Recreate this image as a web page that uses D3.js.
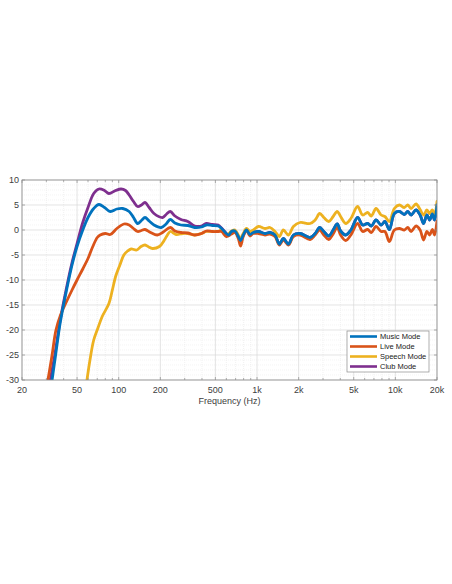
<!DOCTYPE html>
<html><head><meta charset="utf-8">
<script src="https://cdn.jsdelivr.net/npm/d3@7"></script>
<style>
html,body{margin:0;padding:0;background:#fff;}
svg{display:block;font-family:"Liberation Sans",Arial,Helvetica,sans-serif;}
</style></head>
<body>
<svg id="chart" width="452" height="584"></svg>
<script>
// ---- Data ----
const seriesNames = ["Music Mode", "Live Mode", "Speech Mode", "Club Mode"];
const seriesColors = ["#0072BD", "#D95319", "#EDB120", "#7E2F8E"];

const xTickValues = [20, 50, 100, 200, 500, 1000, 2000, 5000, 10000, 20000];
const xTickLabels = ["20", "50", "100", "200", "500", "1k", "2k", "5k", "10k", "20k"];
const yTickValues = [10, 5, 0, -5, -10, -15, -20, -25, -30];

const musicFreq = [33,35,37.8,42,46,50,55,60,66,72,79,87,97,107,119,128,137,146,155,166,180,203,220,236,255,282,316,354,397,430,475,524,554,600,625,654,692,732,760,795,840,888,940,1023,1142,1240,1348,1450,1550,1686,1832,2045,2420,2630,2840,3040,3300,3550,3800,4020,4380,4770,5330,5800,6300,6700,7250,7890,8400,9050,9830,10700,11600,12300,13000,14100,15100,16000,16900,17700,18500,19200,20000];
const musicDb = [-30,-25,-18.5,-12,-7,-3.3,0,2.5,4.3,5.1,4.5,3.7,4.2,4.3,3.7,2.5,1.3,1.9,2.5,1.8,1,0.5,1.2,2.1,1.4,1,0.9,0.5,0.6,1,0.9,0.8,0.3,-0.7,-1,-0.3,-0.2,-1.3,-2.1,-1,0,-0.9,-0.5,-0.3,-0.7,-0.5,-1,-2.8,-1.7,-2.8,-1,-0.7,-1.5,-0.7,0.5,-0.3,-1.2,0,1.2,-0.2,-1,0,2.5,1,1.3,0.8,2,1,1.7,0.1,3.3,3.7,3.1,3.7,3,4,3,1.3,3,2,3.2,2,5];

const liveFreq = [30.8,33,35.2,38,42,46,50,55,60,65,70,73.5,80,87,97,109,119,128,137,146,155,170,190,210,236,255,282,316,354,397,430,475,524,554,600,654,692,732,760,795,840,888,940,1023,1142,1240,1348,1450,1550,1686,1832,2045,2420,2630,2840,3040,3300,3550,3800,4020,4380,4770,5330,5800,6300,6700,7250,7890,8400,9050,9830,10700,11600,12300,13000,14100,15100,16000,16900,17700,18500,19200,20000];
const liveDb = [-30,-25,-20,-17,-14.3,-12,-10,-7.8,-5.7,-3.3,-1.5,-1,-0.7,-0.9,0.3,1.2,1,0.3,-0.3,-0.1,0.1,-0.5,-1,-0.4,0.5,-0.2,-0.5,-0.6,-1,-0.7,-0.2,-0.3,-0.3,-0.3,-1.3,-0.8,-0.5,-1.7,-3.2,-1.3,-0.1,-1.2,-0.7,-0.7,-1,-0.8,-1.3,-3,-2,-3,-1.3,-1,-1.9,-1,0,-1,-1.9,-0.8,0.5,-1,-2.1,-1,1.3,-0.3,0.1,-0.5,0.7,-0.3,-0.3,-2.3,0,0.3,0,0.5,-0.3,0.8,0,-2,-0.3,-1,0.1,-1,1.8];

const speechFreq = [59,62,66,71,76,85,90,95,102,109,116,123,135,145,155,165,175,197,214,225,236,260,290,316,354,397,430,475,524,554,600,654,692,732,760,795,840,888,940,1023,1142,1240,1348,1450,1550,1686,1832,2045,2420,2630,2840,3040,3300,3550,3800,4020,4380,4770,5330,5800,6300,6700,7250,7890,8400,9050,9830,10700,11600,12300,13000,14100,15100,16000,16900,17700,18500,19200,20000];
const speechDb = [-30,-26,-22,-19.5,-17.3,-14.7,-12,-9.3,-7,-5,-4.2,-3.8,-4,-3.3,-3,-3.4,-3.7,-3.3,-2,-1,-0.3,-0.9,-0.7,-0.7,-1,-0.7,-0.3,-0.3,-0.3,0,-1,-0.2,0,-1,-1.7,-0.7,0.3,-0.3,0,0.7,0.3,0.5,-0.3,-1.3,0,-1,0.7,1.5,1.3,2,3.3,2.5,1.7,2.7,3.7,2.7,1.3,2.3,4.7,3,3.5,2.8,4.3,3,2.7,1.7,4.3,5,4.5,5,4.3,5.2,4.1,3,4,3.3,4,3.3,5.7];

const clubFreq = [32,34.5,37.8,42,46,50,55,60,66,72,79,85,95,104,112,119,128,137,146,155,166,180,208,222,236,255,282,316,354,397,430,475,524,554,600,625,654,692,732,760,795,840,888,940,1023,1142,1240,1348,1450,1550,1686,1832,2045,2420,2630,2840,3040,3300,3550,3800,4020,4380,4770,5330,5800,6300,6700,7250,7890,8400,9050,9830,10700,11600,12300,13000,14100,15100,16000,16900,17700,18500,19200,20000];
const clubDb = [-30,-25,-18,-11.5,-6.5,-2.7,1.5,4.5,7.3,8.2,7.9,7.3,7.9,8.2,7.9,7,5.7,4.7,5,5.5,4.5,3.3,2.5,3.2,3.7,2.8,2.1,1.7,0.8,0.8,1.3,1.1,1,0.4,-0.7,-1,-0.3,-0.2,-1.3,-2.1,-1,0,-0.9,-0.5,-0.3,-0.7,-0.5,-1,-2.8,-1.7,-2.8,-1,-0.7,-1.5,-0.7,0.5,-0.3,-1.2,0,1.2,-0.2,-1,0,2.5,1,1.3,0.8,2,1,1.7,0.1,3.3,3.7,3.1,3.7,3,4,3,1.3,3,2,3.2,2,5];

// ---- Layout ----
const svg = d3.select("#chart");
const L = 22, R = 437, T = 180, B = 380;
const x = d3.scaleLog().domain([20, 20000]).range([L, R]);
const y = d3.scaleLinear().domain([-30, 10]).range([B, T]);
const axisColor = "#8c8c8c", textColor = "#404040";

svg.append("rect").attr("x", 0).attr("y", 0).attr("width", 452).attr("height", 584).attr("fill", "#fff");

// minor grid
const minorX = [];
[10, 100, 1000, 10000].forEach(d => { for (let k = 2; k <= 9; k++) { const v = d * k; if (v > 20 && v < 20000 && !xTickValues.includes(v)) minorX.push(v); } });
const minorY = d3.range(-30, 11, 1).filter(v => v % 5 !== 0);
const g = svg.append("g");
g.selectAll(".mgx").data(minorX).enter().append("line")
  .attr("x1", d => x(d)).attr("x2", d => x(d)).attr("y1", T).attr("y2", B)
  .attr("stroke", "#e8e8e8").attr("stroke-width", 0.6).attr("stroke-dasharray", "1,1");
g.selectAll(".mgy").data(minorY).enter().append("line")
  .attr("x1", L).attr("x2", R).attr("y1", d => y(d)).attr("y2", d => y(d))
  .attr("stroke", "#ececec").attr("stroke-width", 0.6).attr("stroke-dasharray", "1,1");
// major grid
g.selectAll(".gx").data(xTickValues).enter().append("line")
  .attr("x1", d => x(d)).attr("x2", d => x(d)).attr("y1", T).attr("y2", B)
  .attr("stroke", "#d8d8d8").attr("stroke-width", 0.7);
g.selectAll(".gy").data(yTickValues).enter().append("line")
  .attr("x1", L).attr("x2", R).attr("y1", d => y(d)).attr("y2", d => y(d))
  .attr("stroke", "#d8d8d8").attr("stroke-width", 0.7);

// clip
svg.append("clipPath").attr("id", "clip").append("rect")
  .attr("x", L).attr("y", T).attr("width", R - L).attr("height", B - T);

const series = [
  { name: seriesNames[0], color: seriesColors[0], f: musicFreq, v: musicDb },
  { name: seriesNames[1], color: seriesColors[1], f: liveFreq, v: liveDb },
  { name: seriesNames[2], color: seriesColors[2], f: speechFreq, v: speechDb },
  { name: seriesNames[3], color: seriesColors[3], f: clubFreq, v: clubDb }
];
const line = d3.line().x(d => x(d[0])).y(d => y(d[1])).curve(d3.curveCatmullRom.alpha(0.5));
const drawOrder = [3, 2, 1, 0];
const lg = svg.append("g").attr("clip-path", "url(#clip)");
drawOrder.forEach(i => {
  const s = series[i];
  lg.append("path").datum(s.f.map((f, j) => [f, s.v[j]]))
    .attr("d", line).attr("fill", "none").attr("stroke", s.color)
    .attr("stroke-width", 2.8).attr("stroke-linejoin", "round").attr("stroke-linecap", "round");
});

// axes (box with inward ticks)
const ax = svg.append("g");
const tickLen = 3;
[B, T].forEach((yy, idx) => {
  const dir = idx === 0 ? -1 : 1;
  ax.selectAll(null).data(xTickValues.concat(minorX)).enter().append("line")
    .attr("x1", d => x(d)).attr("x2", d => x(d)).attr("y1", yy).attr("y2", d => yy + dir * (xTickValues.includes(d) ? tickLen : tickLen * 0.7))
    .attr("stroke", axisColor).attr("stroke-width", 0.7);
});
[L, R].forEach((xx, idx) => {
  const dir = idx === 0 ? 1 : -1;
  ax.selectAll(null).data(yTickValues).enter().append("line")
    .attr("x1", xx).attr("x2", xx + dir * tickLen).attr("y1", d => y(d)).attr("y2", d => y(d))
    .attr("stroke", axisColor).attr("stroke-width", 0.7);
});
ax.append("rect").attr("x", L).attr("y", T).attr("width", R - L).attr("height", B - T)
  .attr("fill", "none").attr("stroke", axisColor).attr("stroke-width", 0.8);

// tick labels
ax.selectAll(".xl").data(xTickValues).enter().append("text")
  .attr("x", d => x(d)).attr("y", B + 13).attr("text-anchor", "middle")
  .attr("font-size", 9).attr("fill", textColor).text((d, i) => xTickLabels[i]);
ax.selectAll(".yl").data(yTickValues).enter().append("text")
  .attr("x", L - 3).attr("y", d => y(d) + 3.2).attr("text-anchor", "end")
  .attr("font-size", 9).attr("fill", textColor).text(d => d);
ax.append("text").attr("x", (L + R) / 2).attr("y", B + 24).attr("text-anchor", "middle")
  .attr("font-size", 9).attr("fill", textColor).text("Frequency (Hz)");

// legend
const lgX = 347, lgY = 331, lgW = 82, lgH = 41;
const leg = svg.append("g");
leg.append("rect").attr("x", lgX).attr("y", lgY).attr("width", lgW).attr("height", lgH)
  .attr("fill", "#fff").attr("stroke", "#8c8c8c").attr("stroke-width", 0.7);
series.forEach((s, i) => {
  const yy = lgY + 5.5 + i * 10;
  leg.append("line").attr("x1", lgX + 3).attr("x2", lgX + 30).attr("y1", yy).attr("y2", yy)
    .attr("stroke", s.color).attr("stroke-width", 2.6);
  leg.append("text").attr("x", lgX + 33).attr("y", yy + 2.7).attr("font-size", 7.5)
    .attr("fill", "#202020").text(s.name);
});
</script>
</body></html>
